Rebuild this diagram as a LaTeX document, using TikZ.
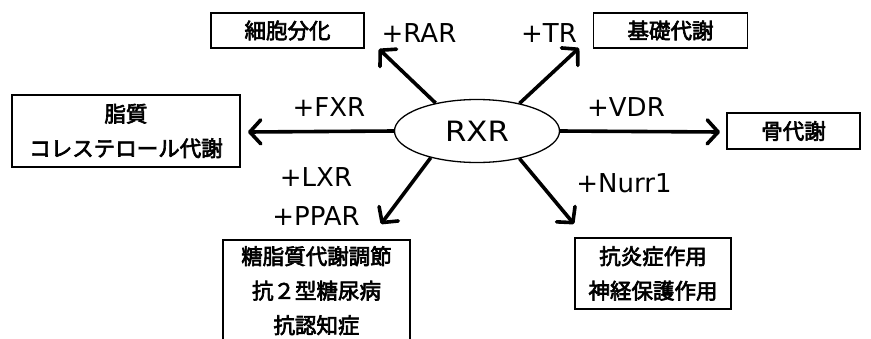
\documentclass[tikz,border=0pt]{standalone}
\usepackage{fontspec}
\setmainfont{Noto Sans CJK JP}
\newfontfamily\jpfont[FakeBold=3]{Noto Sans CJK JP}
\newfontfamily\latinfont{DejaVu Sans}
\usetikzlibrary{shapes.geometric,arrows.meta}
\tikzset{
  jptext/.style={font=\jpfont\fontsize{21.5}{34.5}\selectfont},
  box/.style={draw, line width=1.6pt, inner sep=0pt, align=center, jptext},
  lbl/.style={font=\latinfont\fontsize{26}{26}\selectfont, inner sep=0pt},
  arr/.style={line width=3.6pt, -{Straight Barb[length=11pt,width=24pt,line width=3.6pt,round]}},
}
\begin{document}
\begin{tikzpicture}[x=1pt,y=-1pt]
\useasboundingbox (0,0) rectangle (871,338);
\clip (0,0) rectangle (871,338);
\node[draw, ellipse, line width=1.3pt, minimum width=165pt, minimum height=63pt, inner sep=0pt, font=\latinfont\fontsize{28}{28}\selectfont] (rxr) at (477,131) {\scalebox{1.1}[1]{RXR}};

\node[box, minimum width=153pt, minimum height=35pt] (b1) at (287.5,30.5) {細胞分化};
\node[box, minimum width=154pt, minimum height=35pt] (b2) at (670.5,30.5) {基礎代謝};
\node[box, minimum width=228pt, minimum height=72pt] (b3) at (126,131) {脂質\\コレステロール代謝};
\node[box, minimum width=133pt, minimum height=36pt] (b4) at (793.5,131) {骨代謝};
\node[box, minimum width=156pt, minimum height=71pt] (b5) at (653,273.5) {抗炎症作用\\神経保護作用};
\node[box, minimum width=187pt, minimum height=112pt, anchor=north] (b6) at (316.5,239) {};
\node[jptext, align=center, anchor=north, inner sep=0pt] (t6) at (316.5,246) {糖脂質代謝調節\\抗２型糖尿病\\抗認知症};

\node[lbl] (lRAR) at (419,33) {+RAR};
\node[lbl] (lTR) at (549,33) {+TR};
\node[lbl] (lFXR) at (329,107) {+FXR};
\node[lbl] (lVDR) at (626,107) {+VDR};
\node[lbl] (lLXR) at (316,177) {+LXR};
\node[lbl] (lPPAR) at (316,216) {+PPAR};
\node[lbl] (lNurr) at (624,183) {+Nurr1};

\coordinate (tRAR) at (379,49);
\coordinate (tTR) at (579,48);
\coordinate (tFXR) at (248,132);
\coordinate (tVDR) at (720,132);
\coordinate (tLXR) at (381,224);
\coordinate (tNurr) at (574,224);

\draw[arr] (rxr.146) -- (tRAR);
\draw[arr] (rxr.33) -- (tTR);
\draw[arr] (rxr.180) -- (tFXR);
\draw[arr] (rxr.0) -- (tVDR);
\draw[arr] (rxr.210) -- (tLXR);
\draw[arr] (rxr.327) -- (tNurr);
\end{tikzpicture}
\end{document}
